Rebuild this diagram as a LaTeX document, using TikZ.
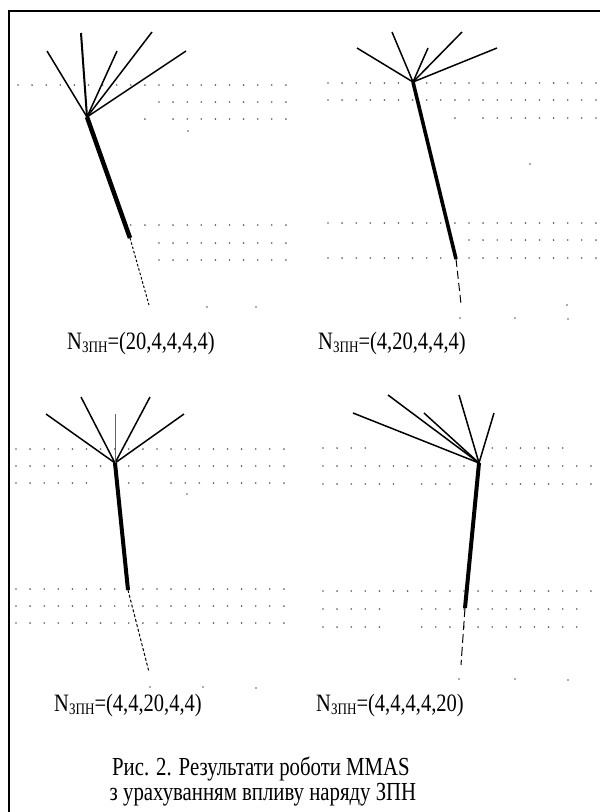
\documentclass[tikz,border=0pt]{standalone}
\usepackage{fontspec}
\setmainfont{Liberation Serif}
\colorlet{gridDot}{black!65}
\colorlet{branch}{black}
\newcommand\zpn{\raisebox{-3pt}{\fontsize{16}{16}\selectfont ЗПН}}

\begin{document}
\begin{tikzpicture}[
  x=1pt,y=-1pt,
  frame line/.style={
    draw=black,
    line width=2pt,
  },
  fan/.style={
    draw=branch,
    line width=1.5pt,
  },
  trunk/.style={
    draw=branch,
    line width=#1,
  },
  tail/.style={
    draw=branch,
    line width=1pt,
    dash pattern=#1,
  },
  grid dot/.style={
    fill=gridDot,
  },
  case label/.style={
    font=\fontsize{25}{25}\selectfont,
    xscale=0.82,
    anchor=base,
    inner sep=0pt,
  },
  caption line/.style={
    font=\fontsize{26}{26}\selectfont,
    xscale=0.8,
    anchor=base,
    inner sep=0pt,
  }
]
\useasboundingbox (0,0) rectangle (600,812);
\draw[frame line] (8.5,815) |- (603,10.5);

% dotted background rows: x origin / row / columns
\foreach \xo/\y/\cols in {
  18/85/{0,...,19},18/102/{10,...,19},18/119/{9,11,12,...,19},
  18/225/{8,...,19},18/243/{10,...,19},18/260/{10,...,19},
  328/83/{0,...,19},328/100/{0,...,19},328/118/{9,11,12,...,19},
  328/223/{0,...,19},328/240/{10,...,19},328/258/{0,...,19},
  16/449/{0,...,19},16/466/{0,...,19},16/483/{0,...,5,8,9,11,12,...,19},
  16/589/{0,...,19},16/606/{0,...,19},16/623/{0,...,19},
  323/448/{0,...,3,12,13,...,17},323/466/{0,...,19},323/484/{0,...,5,7,8,9,11,12,...,19},
  323/591/{0,...,19},323/609/{0,...,4,7,8,...,18},323/627/{0,...,4,7,8,...,18}} {
  \foreach \c in \cols {
    \fill[grid dot] (\xo+14.1*\c,\y) circle (0.9);
  }
}
% stray points
\foreach \x/\y in {188/131,207/307,256/307,530/164,567/305,
  460/318,515/318,568/319,187/494,150/687,203/687,256/688,
  459/679,515/679,568/680} {
  \fill[grid dot] (\x,\y) circle (0.9);
}

% top left
\coordinate (hubA) at (87,117);
\foreach \x/\y [count=\i] in {47/51,81/33,117/51,152/32,186/51}
  \coordinate (tipA\i) at (\x,\y);
\coordinate (bendA) at (130,238);
\coordinate (endA) at (149,305);
\foreach \i in {1,3,4,5}
  \draw[fan] (hubA) -- (tipA\i);
\draw[fan,line width=2pt] (hubA) -- (tipA2);
\draw[trunk=4.5pt] (hubA) -- (bendA);
\draw[tail={on 2.5pt off 2pt}] (bendA) -- (endA);

% top right
\coordinate (hubB) at (413,82);
\foreach \x/\y [count=\i] in {357/48,392/32,428/48,462/32,497/48}
  \coordinate (tipB\i) at (\x,\y);
\coordinate (bendB) at (456,259);
\coordinate (endB) at (461,304);
\foreach \i in {1,...,5}
  \draw[fan] (hubB) -- (tipB\i);
\draw[trunk=3.6pt] (hubB) -- (bendB);
\draw[tail={on 8pt off 4pt}] (bendB) -- (endB);

% bottom left
\coordinate (hubC) at (115,463);
\foreach \x/\y [count=\i] in {46/414,81/397,115/414,150/397,184/414}
  \coordinate (tipC\i) at (\x,\y);
\coordinate (bendC) at (128,590);
\coordinate (endC) at (149,672);
\foreach \i in {1,2,4,5}
  \draw[fan] (hubC) -- (tipC\i);
\draw[fan,draw=black!60,line width=0.9pt] (hubC) -- (tipC3);
\draw[trunk=4pt] (hubC) -- (bendC);
\draw[tail={on 3pt off 2pt}] (bendC) -- (endC);

% bottom right
\coordinate (hubD) at (479,463);
\foreach \x/\y [count=\i] in {353/413,388/395,424/413,459/395,494/413}
  \coordinate (tipD\i) at (\x,\y);
\coordinate (bendD) at (465,608);
\coordinate (endD) at (461,665);
\foreach \i in {1,...,5}
  \draw[fan] (hubD) -- (tipD\i);
\draw[trunk=4pt] (hubD) -- (bendD);
\draw[tail={on 9pt off 4pt}] (bendD) -- (endD);

\node[case label] (labA) at (141,349) {N\zpn=(20,4,4,4,4)};
\node[case label] (labB) at (392,349) {N\zpn=(4,20,4,4,4)};
\node[case label] (labC) at (128,711) {N\zpn=(4,4,20,4,4)};
\node[case label] (labD) at (390,711) {N\zpn=(4,4,4,4,20)};
\node[caption line] (capA) at (261,775) {Рис. 2. Результати роботи MMAS};
\node[caption line] (capB) at (263,800) {з урахуванням впливу наряду ЗПН};
\end{tikzpicture}
\end{document}
